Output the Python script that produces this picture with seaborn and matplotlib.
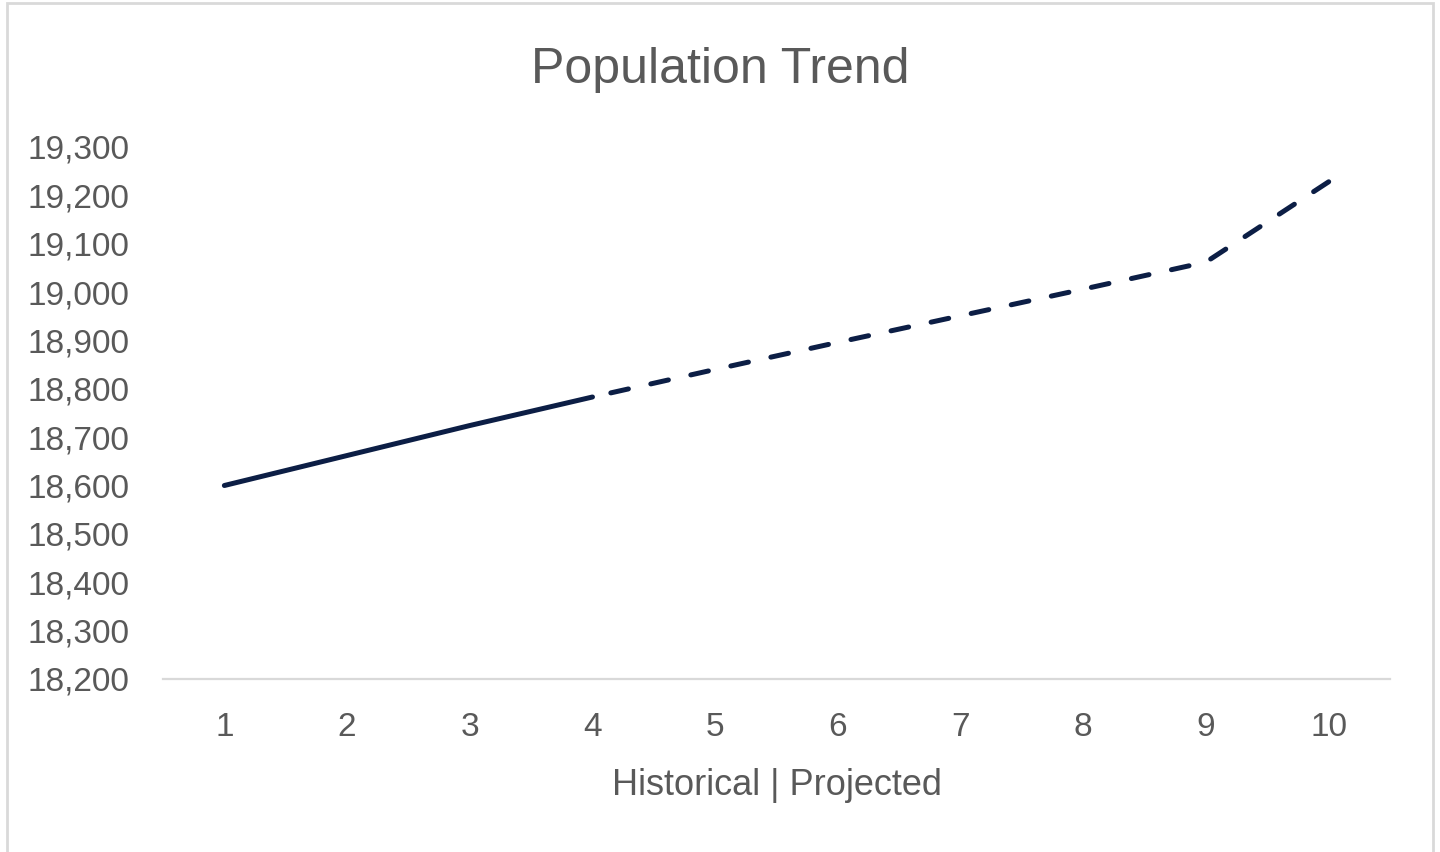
import pandas as pd
import matplotlib.pyplot as plt
import seaborn as sns
from matplotlib.patches import Rectangle
from matplotlib.ticker import FuncFormatter

# ----- Dati -----
periods = [1, 2, 3, 4, 5, 6, 7, 8, 9, 10]
population = [18600, 18662, 18724, 18783, 18840, 18896, 18951, 19006, 19062, 19228]
last_historical = 4

df = pd.DataFrame({"period": periods, "population": population})
hist = df[df["period"] <= last_historical]
# disegnato al contrario cosi' il tratteggio parte dall'ultimo punto
proj = df[df["period"] >= last_historical].iloc[::-1]

navy = "#0C1E45"
grey_text = "#595959"

sns.set_theme(style="white")
plt.rcParams["font.family"] = ["Liberation Sans Narrow", "Liberation Sans", "DejaVu Sans"]

fig = plt.figure(figsize=(14.4, 8.52), dpi=100)
ax = fig.add_axes([0.1132, 0.2031, 0.8521, 0.6244])

sns.lineplot(data=hist, x="period", y="population", ax=ax, color=navy, linewidth=3.6,
             solid_capstyle="round")
sns.lineplot(data=proj, x="period", y="population", ax=ax, color=navy, linewidth=3.6,
             sort=False)
ax.lines[-1].set_dashes((3.6, 4.6))
ax.lines[-1].set_dash_capstyle("round")

ax.set_xlim(0.5, 10.5)
ax.set_ylim(18200, 19300)
ax.set_xticks(periods)
ax.set_yticks(range(18200, 19301, 100))
ax.yaxis.set_major_formatter(FuncFormatter(lambda v, p: f"{int(v):,}"))
ax.tick_params(axis="both", length=0, labelsize=24, colors=grey_text)
ax.tick_params(axis="x", pad=24)
ax.tick_params(axis="y", pad=24)

for s in ["top", "right", "left"]:
    ax.spines[s].set_visible(False)
ax.spines["bottom"].set_color("#D9D9D9")
ax.spines["bottom"].set_linewidth(1.6)

ax.set_xlabel("Historical | Projected", fontsize=26, color=grey_text, labelpad=18)
ax.set_ylabel("")
fig.text(0.5, 0.918, "Population Trend", ha="center", va="center", fontsize=36, color=grey_text)

# cornice del grafico
fig.patches.append(Rectangle((0.005, -0.01), 0.99, 1.006, transform=fig.transFigure,
                             fill=False, edgecolor="#D9D9D9", linewidth=2))

fig.savefig("out.png", dpi=100)
